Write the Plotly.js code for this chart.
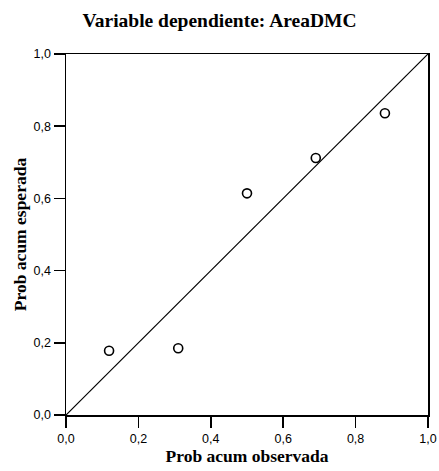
<!DOCTYPE html>
<html>
<head>
<meta charset="utf-8">
<script src="https://cdn.plot.ly/plotly-3.0.1.min.js"></script>
<style>html,body{margin:0;padding:0;background:#fff;}</style>
</head>
<body>
<div id="chart" style="width:439px;height:471px;"></div>
<script>
var observed = [0.119, 0.310, 0.500, 0.690, 0.881];
var expected = [0.178, 0.185, 0.614, 0.712, 0.836];
var refLineX = [0, 1];
var refLineY = [0, 1];
var tickVals = [0, 0.2, 0.4, 0.6, 0.8, 1.0];

var axisCommon = {
  range: [0, 1],
  tickvals: tickVals,
  tickformat: '.1f',
  ticks: 'outside',
  ticklen: 11,
  tickwidth: 1.5,
  tickcolor: '#000',
  showline: true,
  linecolor: '#000',
  linewidth: 1.5,
  mirror: true,
  showgrid: false,
  zeroline: false,
  tickfont: {family: 'Liberation Sans, Arial, sans-serif', size: 12.5, color: '#000'},
  fixedrange: true
};

var data = [
  {x: refLineX, y: refLineY, mode: 'lines', type: 'scatter',
   line: {color: '#000', width: 1.2}, hoverinfo: 'skip', showlegend: false, cliponaxis: false},
  {x: observed, y: expected, mode: 'markers', type: 'scatter',
   marker: {symbol: 'circle-open', size: 9, color: '#000', line: {width: 1.6, color: '#000'}},
   showlegend: false}
];

var layout = {
  width: 439, height: 471,
  margin: {l: 66, r: 11, t: 54, b: 56},
  paper_bgcolor: '#fff', plot_bgcolor: '#fff',
  separators: ',.',
  title: {text: '<b>Variable dependiente: AreaDMC</b>', x: 0.5, xanchor: 'center', y: 0.958, yanchor: 'middle',
          font: {family: 'Liberation Serif, Times New Roman, serif', size: 19.5, color: '#000'}},
  xaxis: Object.assign({}, axisCommon, {
    title: {text: '<b>Prob acum observada</b>', standoff: 4,
            font: {family: 'Liberation Serif, Times New Roman, serif', size: 17.5, color: '#000'}}
  }),
  yaxis: Object.assign({}, axisCommon, {
    title: {text: '<b>Prob acum esperada</b>', standoff: 2,
            font: {family: 'Liberation Serif, Times New Roman, serif', size: 17.5, color: '#000'}}
  })
};

Plotly.newPlot('chart', data, layout, {displayModeBar: false, staticPlot: true});
</script>
</body>
</html>
